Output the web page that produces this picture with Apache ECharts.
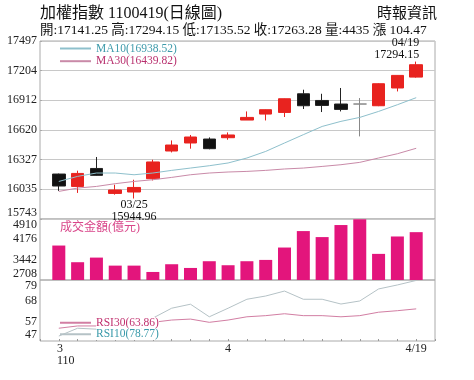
<!DOCTYPE html>
<html><head><meta charset="utf-8">
<script src="https://cdn.jsdelivr.net/npm/echarts@6/dist/echarts.min.js"></script>
<style>html,body{margin:0;padding:0;background:#fff}#c{width:474px;height:380px}</style>
</head><body><div id="c"></div>
<script>
const dates  = ['3/19','3/22','3/23','3/24','3/25','3/26','3/29','3/30','3/31','4/1','4/6','4/7','4/8','4/9','4/12','4/13','4/14','4/15','4/16','4/19'];
const opens  = [16186,16064,16241,15995,16009,16140,16413,16492,16531,16544,16718,16777,16793,16977,16911,16876,16876,16859,17034,17141.25];
const closes = [16068,16192,16173,16029,16054,16305,16472,16551,16436,16571,16744,16820,16928,16859,16862,16823,16876,17076,17158,17263.28];
const lows   = [16020,16000,16170,15983,15944.96,16123,16399,16436,16430,16524,16718,16714,16748,16827,16797,16803,16557,16855,17000,17135.52];
const highs  = [16190,16219,16354,16081,16130,16327,16517,16571,16547,16596,16803,16822,16930,17017,16977,17034,16935,17080,17160,17294.15];
const ma10   = [16113,16163,16196,16196,16179,16196,16222,16245,16268,16295,16344,16409,16492,16574,16655,16705,16744,16803,16869,16938.52];
const ma30   = [16015,16048,16064,16091,16113,16130,16153,16179,16196,16206,16212,16222,16236,16245,16261,16278,16301,16344,16386,16439.82];
const vols   = [3952,3350,3517,3227,3227,2998,3277,3143,3386,3241,3386,3433,3880,4474,4257,4692,4900,3651,4279,4435];
const rsi10  = [49.6,53.7,53.2,49.0,50.0,59.0,64.2,66.3,59.7,64.2,68.9,70.6,73.2,68.9,68.9,66.4,68.0,74.3,76.4,78.77];
const rsi30  = [53.7,54.9,54.9,54.4,54.8,56.8,58.0,58.5,56.8,58.0,59.7,60.3,61.3,60.3,60.3,59.7,60.3,62.1,62.9,63.86];
const priceTicks = [15743,16035,16327,16620,16912,17204,17497];
const volTicks   = [2708,3442,4176,4910];
const rsiTicks   = [47,57,68,79];
const xTickLabels = {'3/19':'3\n110','4/1':'4','4/19':'4/19'};
const titleText = '加權指數 1100419(日線圖)';
const sourceText = '時報資訊';
const quoteText = '開:17141.25 高:17294.15 低:17135.52 收:17263.28 量:4435 漲 104.47';
const volName = '成交金額(億元)';

const SERIF = "'Liberation Serif','Noto Sans CJK TC',serif";
const pad = a => ['-'].concat(a, ['-']);
const cats = [''].concat(dates, ['']);
const fmtDate = d => d.split('/').map(s => s.padStart(2,'0')).join('/');

const candles = dates.map((d,i) => {
  const v = [opens[i], closes[i], lows[i], highs[i]];
  if (opens[i] === closes[i]) return {value: v, itemStyle:{color:'#888',color0:'#888',borderColor:'#888',borderColor0:'#888'}};
  return v;
});
const hiIdx = highs.indexOf(Math.max(...highs));
const loIdx = lows.indexOf(Math.min(...lows));
const ma10Name = 'MA10(' + ma10[ma10.length-1].toFixed(2) + ')';
const ma30Name = 'MA30(' + ma30[ma30.length-1].toFixed(2) + ')';
const r30Name = 'RSI30(' + rsi30[rsi30.length-1].toFixed(2) + ')';
const r10Name = 'RSI10(' + rsi10[rsi10.length-1].toFixed(2) + ')';

const GL = 40, GW = 395;
const grids = [
  {left:GL, width:GW, top:41, height:178},
  {left:GL, width:GW, top:219, height:61},
  {left:GL, width:GW, top:280, height:61}
].map(g => Object.assign(g, {show:true, borderColor:'#aaa', borderWidth:1}));

const yLab = {color:'#222', fontSize:12, fontFamily:SERIF, margin:3, verticalAlignMaxLabel:'top', verticalAlignMinLabel:'bottom'};
function yAxEven(idx, ticks, split) {
  const min = ticks[0], max = ticks[ticks.length-1], step = (max - min) / (ticks.length - 1);
  return {type:'value', gridIndex:idx, min:min, max:max, interval:step,
    axisLine:{show:false}, axisTick:{show:split, inside:true, length:2, lineStyle:{color:'#aaa'}},
    axisLabel:Object.assign({formatter: v => String(ticks[Math.round((v - min) / step)])}, yLab),
    splitLine:{show:split, lineStyle:{color:'#c8c8c8', width:1, type:'solid'}}};
}
function yAxCustom(idx, ticks) {
  return {type:'value', gridIndex:idx, min:ticks[0], max:ticks[ticks.length-1],
    axisLine:{show:false}, axisTick:{show:false},
    axisLabel:Object.assign({customValues:ticks, formatter: v => String(v)}, yLab),
    splitLine:{show:false}};
}
function xAx(idx, labels) {
  return {type:'category', gridIndex:idx, data:cats, boundaryGap:false,
    axisLine:{show:false},
    axisTick:{show:labels, inside:true, length:2, interval:0, lineStyle:{color:'#999'}},
    axisLabel:{show:labels, interval:0, margin:2, color:'#222', fontSize:12, fontFamily:SERIF, lineHeight:12,
      formatter:(v) => {
        const t = xTickLabels[v];
        if (!t) return '';
        if (t.indexOf('\n') >= 0) return t.split('\n').map(s => '{p|' + s + '}').join('\n');
        return t;
      },
      rich:{p:{padding:[0,0,0,14], align:'left', fontSize:12, fontFamily:SERIF, lineHeight:12, color:'#222'}}},
    splitLine:{show:false}};
}

const option = {
  animation:false,
  backgroundColor:'#fff',
  title:[
    {text:titleText, left:40, top:6, padding:0, textStyle:{fontSize:16, fontWeight:'normal', color:'#111', fontFamily:SERIF}},
    {text:sourceText, left:377, top:7, padding:0, textStyle:{fontSize:15, fontWeight:'normal', color:'#111', fontFamily:SERIF}},
    {text:quoteText, left:40, top:24, padding:0, textStyle:{fontSize:13.5, fontWeight:'normal', color:'#111', fontFamily:SERIF}},
    {text:volName, left:60, top:222, padding:0, textStyle:{fontSize:12, fontWeight:'normal', color:'#d9468a', fontFamily:SERIF}}
  ],
  legend:[
    {left:59, top:42.5, orient:'vertical', padding:0, itemWidth:31, itemHeight:12, itemGap:0.7, selectedMode:false,
     itemStyle:{opacity:0},
     textStyle:{fontSize:11.5, fontFamily:SERIF, lineHeight:12},
     data:[{name:ma10Name, textStyle:{color:'#3d9aaa'}}, {name:ma30Name, textStyle:{color:'#b8306e'}}]},
    {left:59, top:317, orient:'vertical', padding:0, itemWidth:31, itemHeight:11.5, itemGap:0, selectedMode:false,
     itemStyle:{opacity:0},
     textStyle:{fontSize:11.5, fontFamily:SERIF, lineHeight:11.5, backgroundColor:'#fff'},
     data:[{name:r30Name, textStyle:{color:'#c0306e'}}, {name:r10Name, textStyle:{color:'#3a9aaa'}}]}
  ],
  grid:grids,
  xAxis:[xAx(0,false), xAx(1,false), xAx(2,true)],
  yAxis:[yAxEven(0,priceTicks,true), yAxEven(1,volTicks,false), yAxCustom(2,rsiTicks)],
  series:[
    {type:'candlestick', xAxisIndex:0, yAxisIndex:0, barWidth:13, data:['-'].concat(candles,['-']),
     itemStyle:{color:'#e8231f', color0:'#111', borderColor:'#e8231f', borderColor0:'#222', borderWidth:1},
     markPoint:{symbol:'circle', symbolSize:0, silent:true,
       data:[
         {coord:[hiIdx+1, highs[hiIdx]], label:{show:true, position:'top', distance:1, align:'right', verticalAlign:'bottom', offset:[3,0],
            formatter: fmtDate(dates[hiIdx]) + '\n' + highs[hiIdx].toFixed(2), color:'#111', fontSize:12, fontFamily:SERIF, lineHeight:12}},
         {coord:[loIdx+1, lows[loIdx]], label:{show:true, position:'bottom', distance:0, align:'center', verticalAlign:'top',
            formatter: fmtDate(dates[loIdx]) + '\n' + lows[loIdx].toFixed(2), color:'#111', fontSize:12, fontFamily:SERIF, lineHeight:12}}
       ]}},
    {name:ma10Name, type:'line', xAxisIndex:0, yAxisIndex:0, data:pad(ma10), symbol:'none', z:3, color:'#8ec0cc', lineStyle:{color:'#8ec0cc', width:1}},
    {name:ma30Name, type:'line', xAxisIndex:0, yAxisIndex:0, data:pad(ma30), symbol:'none', z:3, color:'#c98aa8', lineStyle:{color:'#c98aa8', width:1}},
    {type:'bar', xAxisIndex:1, yAxisIndex:1, data:pad(vols), barWidth:13, itemStyle:{color:'#e3157c'}},
    {name:r30Name, type:'line', xAxisIndex:2, yAxisIndex:2, data:pad(rsi30), symbol:'none', color:'#d27ea3', lineStyle:{color:'#d27ea3', width:1}},
    {name:r10Name, type:'line', xAxisIndex:2, yAxisIndex:2, data:pad(rsi10), symbol:'none', color:'#b5c2c6', lineStyle:{color:'#b5c2c6', width:1}}
  ]
};
const chart = echarts.init(document.getElementById('c'));
chart.setOption(option);
</script></body></html>
